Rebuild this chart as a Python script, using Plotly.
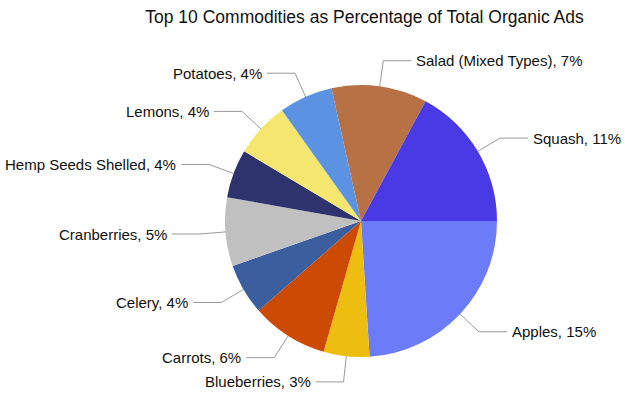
import math
import plotly.graph_objects as go

# ---- data ----
commodities = ["Apples", "Blueberries", "Carrots", "Celery", "Cranberries",
               "Hemp Seeds Shelled", "Lemons", "Potatoes", "Salad (Mixed Types)", "Squash"]
pct_values = [15.0, 3.4, 5.7, 3.8, 5.1, 3.6, 4.1, 4.0, 7.1, 10.7]
colors = ["#6C7BF8", "#EDBD10", "#CC4A03", "#3A5E9E", "#C0C0C0",
          "#2E336E", "#F4E66E", "#5B93E2", "#B87045", "#4A3AE5"]
title_text = "Top 10 Commodities as Percentage of Total Organic Ads"

# ---- geometry (pixels) ----
W, H = 625, 394
cx, cy, R = 361, 221, 136
elbow_r = 1.19 * R
hlen = 28
gap = 3
FONT = "Arial, Liberation Sans, sans-serif"

fig = go.Figure(go.Pie(
    labels=commodities,
    values=pct_values,
    sort=False,
    direction="clockwise",
    rotation=90,
    marker=dict(colors=colors, line=dict(width=0)),
    textinfo="none",
    hoverinfo="label+value",
    showlegend=False,
    domain=dict(x=[(cx - R) / W, (cx + R) / W],
                y=[1 - (cy + R) / H, 1 - (cy - R) / H]),
))

def px2paper(x, y):
    return x / W, 1 - y / H

total = sum(pct_values)
cum = 0.0
shapes = []
annotations = []
for name, v in zip(commodities, pct_values):
    mid = (cum + v / 2) / total * 2 * math.pi  # clockwise from 3 o'clock
    cum += v
    c, s = math.cos(mid), math.sin(mid)
    x0, y0 = cx + R * c, cy + R * s
    x1, y1 = cx + elbow_r * c, cy + elbow_r * s
    right = c >= 0
    x2 = x1 + hlen if right else x1 - hlen
    p0, p1, p2 = px2paper(x0, y0), px2paper(x1, y1), px2paper(x2, y1)
    shapes.append(dict(type="path", xref="paper", yref="paper",
                       path=f"M {p0[0]},{p0[1]} L {p1[0]},{p1[1]} L {p2[0]},{p2[1]}",
                       line=dict(color="#9A9A9A", width=1)))
    tx = x2 + gap if right else x2 - gap
    tp = px2paper(tx, y1)
    annotations.append(dict(xref="paper", yref="paper", x=tp[0], y=tp[1],
                            text=f"{name}, {v:.0f}%", showarrow=False,
                            xanchor="left" if right else "right", yanchor="middle",
                            font=dict(family=FONT, size=15, color="#111111")))

fig.update_layout(
    width=W, height=H,
    margin=dict(l=0, r=0, t=0, b=0),
    paper_bgcolor="white", plot_bgcolor="white",
    title=dict(text=title_text, x=364.5 / W, y=1 - 17 / H, xanchor="center",
               yanchor="middle", xref="paper", yref="container",
               font=dict(family=FONT, size=17.5, color="#111111")),
    shapes=shapes,
    annotations=annotations,
)

fig.write_html("out.html",
               config={"displayModeBar": False},
               post_script="document.body.style.margin='0px';document.body.style.overflow='hidden';")
